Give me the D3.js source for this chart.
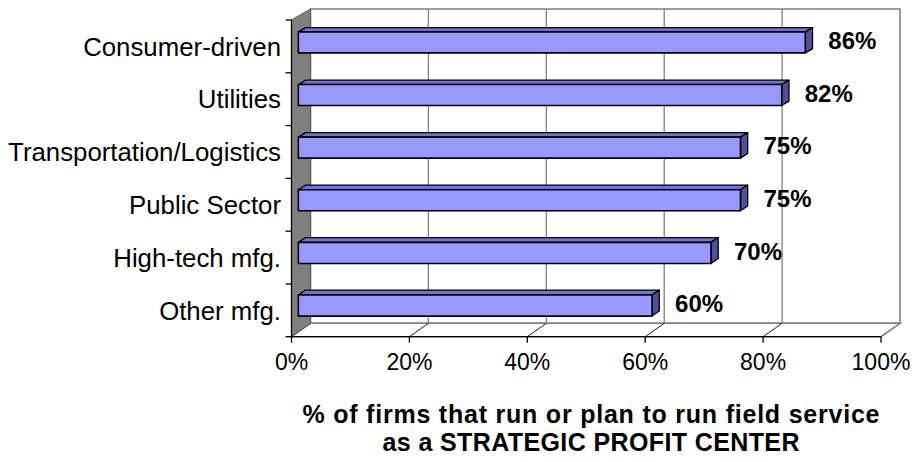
<!DOCTYPE html>
<html>
<head>
<meta charset="utf-8">
<script src="https://cdn.jsdelivr.net/npm/d3@7/dist/d3.min.js"></script>
<style>
  html, body { margin: 0; padding: 0; background: #fff; }
  svg { display: block; font-family: "Liberation Sans", Arial, sans-serif; }
</style>
</head>
<body>
<svg id="chart" width="912" height="462"></svg>
<script>
// Share of firms by industry (top to bottom)
const categories = ["Consumer-driven", "Utilities", "Transportation/Logistics", "Public Sector", "High-tech mfg.", "Other mfg."];
const values = [86, 82, 75, 75, 70, 60];
const tickValues = [0, 20, 40, 60, 80, 100];
const tickLabels = ["0%", "20%", "40%", "60%", "80%", "100%"];
const titleLines = ["% of firms that run or plan to run field service", "as a STRATEGIC PROFIT CENTER"];
const titleWidths = [577, 417];

const svg = d3.select("#chart");

// Oblique 3D frame: a front plane and a back plane, interpolated by depth t in [0,1]
const xFront = d3.scaleLinear().domain([0, 100]).range([291.5, 881]);
const xBack  = d3.scaleLinear().domain([0, 100]).range([310.5, 900]);
const yFront = d3.scaleLinear().domain([0, categories.length]).range([20, 336.7]);
const yBack  = d3.scaleLinear().domain([0, categories.length]).range([9, 323.3]);

// Category bands along the (continuous) category axis
const band = d3.scaleBand().domain(categories).range([0, categories.length])
  .paddingInner(0.6).paddingOuter(0.3);

function P(v, u, t) {
  const xf = xFront(v), xb = xBack(v), yf = yFront(u), yb = yBack(u);
  return [xf + (xb - xf) * t, yf + (yb - yf) * t];
}
const poly = pts => "M" + pts.map(p => p.join(",")).join("L") + "Z";

const N = categories.length;
const grey = "#808080";

// Back wall
svg.append("path")
  .attr("d", poly([P(0, 0, 1), P(100, 0, 1), P(100, N, 1), P(0, N, 1)]))
  .attr("fill", "#fff").attr("stroke", grey).attr("stroke-width", 1.6);

// Back-wall gridlines
svg.append("g").selectAll("line").data(tickValues.slice(1, -1)).join("line")
  .attr("x1", d => P(d, 0, 1)[0]).attr("y1", d => P(d, 0, 1)[1])
  .attr("x2", d => P(d, N, 1)[0]).attr("y2", d => P(d, N, 1)[1])
  .attr("stroke", grey).attr("stroke-width", 1.3);

// Floor
svg.append("path")
  .attr("d", poly([P(0, N, 0), P(100, N, 0), P(100, N, 1), P(0, N, 1)]))
  .attr("fill", "#fff").attr("stroke", grey).attr("stroke-width", 1.6);

// Floor gridlines running back from each tick
svg.append("g").selectAll("line").data(tickValues.slice(1)).join("line")
  .attr("x1", d => P(d, N, 0)[0]).attr("y1", d => P(d, N, 0)[1])
  .attr("x2", d => P(d, N, 1)[0]).attr("y2", d => P(d, N, 1)[1])
  .attr("stroke", d => d === 100 ? grey : "#222").attr("stroke-width", 1);

// Left side wall
svg.append("path")
  .attr("d", poly([P(0, 0, 0), P(0, 0, 1), P(0, N, 1), P(0, N, 0)]))
  .attr("fill", grey).attr("stroke", "#555").attr("stroke-width", 1);

// Category axis line and ticks
svg.append("line")
  .attr("x1", P(0, 0, 0)[0]).attr("y1", P(0, 0, 0)[1])
  .attr("x2", P(0, N, 0)[0]).attr("y2", P(0, N, 0)[1])
  .attr("stroke", "#000").attr("stroke-width", 1.3);
svg.append("g").selectAll("line").data(d3.range(N + 1)).join("line")
  .attr("x1", d => P(0, d, 0)[0] - 6).attr("y1", d => P(0, d, 0)[1])
  .attr("x2", d => P(0, d, 0)[0]).attr("y2", d => P(0, d, 0)[1])
  .attr("stroke", "#000").attr("stroke-width", 1.3);

// Value axis line, ticks and labels (front edge of the floor)
svg.append("line")
  .attr("x1", P(0, N, 0)[0]).attr("y1", P(0, N, 0)[1])
  .attr("x2", P(100, N, 0)[0]).attr("y2", P(100, N, 0)[1])
  .attr("stroke", "#000").attr("stroke-width", 1.3);
svg.append("g").selectAll("line").data(tickValues).join("line")
  .attr("x1", d => P(d, N, 0)[0]).attr("y1", d => P(d, N, 0)[1])
  .attr("x2", d => P(d, N, 0)[0]).attr("y2", d => P(d, N, 0)[1] + 6)
  .attr("stroke", "#000").attr("stroke-width", 1.3);
svg.append("g").selectAll("text").data(tickValues).join("text")
  .attr("x", d => P(d, N, 0)[0]).attr("y", d => P(d, N, 0)[1] + 33)
  .attr("text-anchor", "middle").attr("font-size", 23).attr("fill", "#000")
  .text((d, i) => tickLabels[i]);

// Category labels
svg.append("g").selectAll("text").data(categories).join("text")
  .attr("x", 281).attr("y", d => P(0, band(d) + band.bandwidth() / 2, 0)[1])
  .attr("dy", "0.36em")
  .attr("text-anchor", "end").attr("font-size", 25.8).attr("fill", "#000")
  .text(d => d);

// 3D bars: each bar spans depth t1..t2
const t1 = 0.36, t2 = 0.74;
const bars = svg.append("g").selectAll("g").data(categories).join("g");
bars.each(function (c, i) {
  const g = d3.select(this);
  const v = values[i];
  const u0 = band(c), u1 = band(c) + band.bandwidth();
  // top face
  g.append("path")
    .attr("d", poly([P(0, u0, t1), P(v, u0, t1), P(v, u0, t2), P(0, u0, t2)]))
    .attr("fill", "#7272D2").attr("stroke", "#000").attr("stroke-width", 1.3)
    .attr("stroke-linejoin", "round");
  // end face
  g.append("path")
    .attr("d", poly([P(v, u0, t1), P(v, u0, t2), P(v, u1, t2), P(v, u1, t1)]))
    .attr("fill", "#50509A").attr("stroke", "#000").attr("stroke-width", 1.3)
    .attr("stroke-linejoin", "round");
  // front face
  g.append("path")
    .attr("d", poly([P(0, u0, t1), P(v, u0, t1), P(v, u1, t1), P(0, u1, t1)]))
    .attr("fill", "#9999FF").attr("stroke", "#000").attr("stroke-width", 1.6)
    .attr("stroke-linejoin", "round");
});

// Value labels beside each bar
svg.append("g").selectAll("text").data(categories).join("text")
  .attr("x", (c, i) => P(values[i], band(c), t1)[0] + 23)
  .attr("y", c => P(0, band(c) + band.bandwidth() / 2, t1)[1] - 2)
  .attr("dy", "0.36em")
  .attr("font-size", 24).attr("font-weight", "bold").attr("fill", "#000")
  .text((c, i) => values[i] + "%");

// Axis title, two centred lines
svg.append("g").selectAll("text").data(titleLines).join("text")
  .attr("x", 591).attr("y", (d, i) => 423 + i * 28)
  .attr("text-anchor", "middle").attr("font-size", 25).attr("font-weight", "bold")
  .attr("textLength", (d, i) => titleWidths[i]).attr("lengthAdjust", "spacing")
  .attr("fill", "#000")
  .text(d => d);
</script>
</body>
</html>
